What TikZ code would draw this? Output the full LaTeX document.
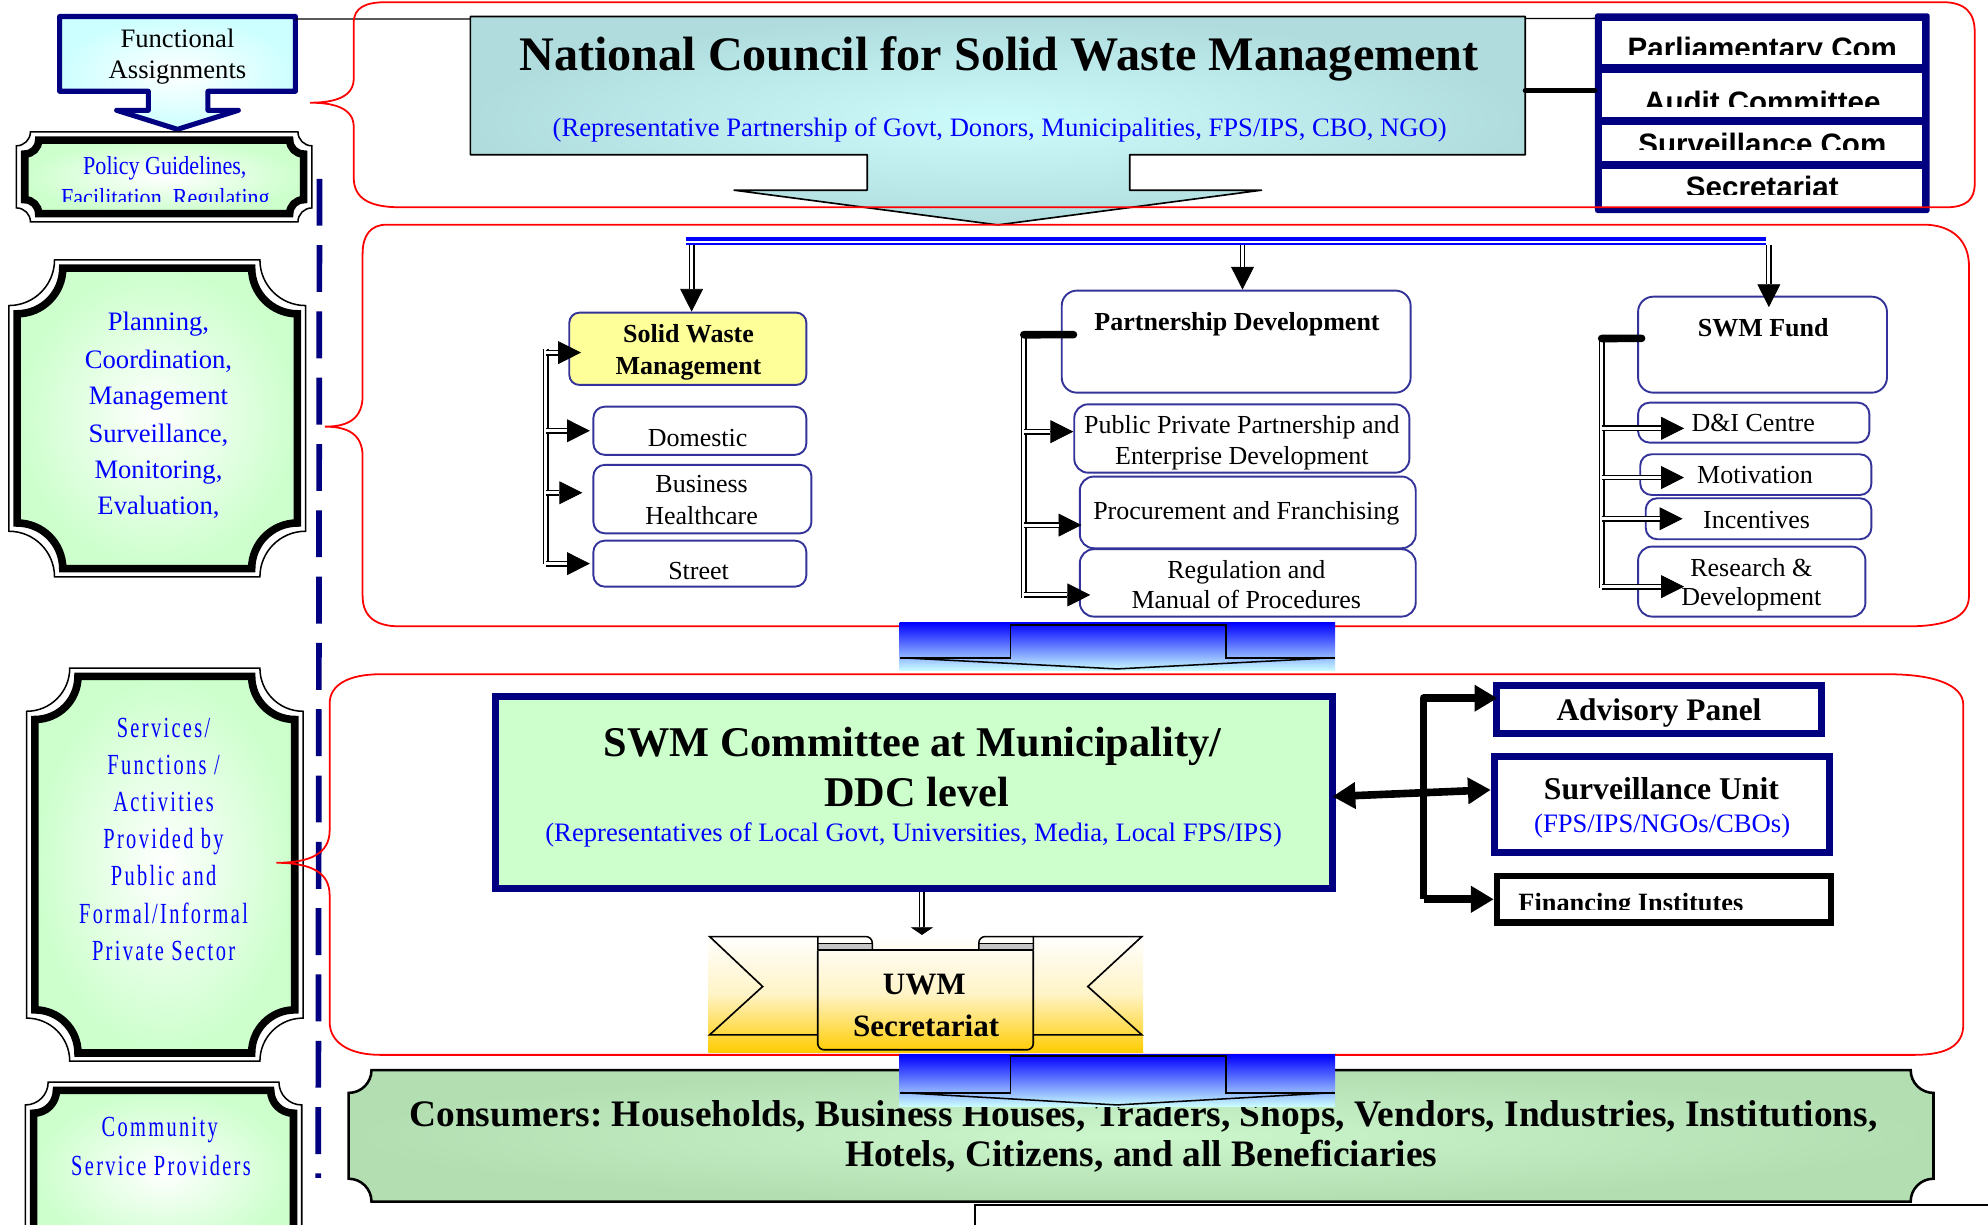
\documentclass[tikz,border=0pt]{standalone}
\usepackage{fontspec}
\setmainfont{Liberation Serif}
\newfontfamily\panelfont{Liberation Sans}
\newfontfamily\narrowfont[FakeStretch=0.85]{Liberation Serif}
\newfontfamily\trackfont[FakeStretch=0.7,LetterSpace=8]{Liberation Serif}
\usetikzlibrary{arrows.meta,calc}
\frenchspacing

\definecolor{navy}{RGB}{0,0,128}
\definecolor{boxblue}{RGB}{51,51,153}
\definecolor{pale}{RGB}{255,255,153}
\definecolor{mint}{RGB}{204,255,204}
\definecolor{sage}{RGB}{178,222,178}
\definecolor{sagelight}{RGB}{204,246,204}
\definecolor{aqua}{RGB}{204,255,255}
\definecolor{ncedge}{RGB}{176,220,222}
\definecolor{nccore}{RGB}{205,252,252}
\definecolor{gold}{RGB}{255,204,0}
\definecolor{ink}{RGB}{0,0,255}
\definecolor{brace}{RGB}{255,0,0}

\newcommand\fs[1]{\fontsize{#1}{#1}\selectfont}

% rectangle with concave (scooped) corners
\newcommand\scooped[5]{(#1+#5,#2) -- (#3-#5,#2) arc[start angle=180,end angle=90,radius=#5] -- (#3,#4-#5) arc[start angle=270,end angle=180,radius=#5] -- (#1+#5,#4) arc[start angle=0,end angle=-90,radius=#5] -- (#1,#2+#5) arc[start angle=90,end angle=0,radius=#5] -- cycle}

% framed plaque: thin outer rule, thick inner rule, pale green fill
\newcommand\plaque[5]{%
  \draw[line width=1.2pt, fill=white] \scooped{#1}{#2}{#3}{#4}{#5};
  \draw[line width=6pt, inner color=white, outer color=mint] \scooped{#1+6.5}{#2+6.5}{#3-6.5}{#4-6.5}{#5};
}

% double-ruled connector with a solid triangular head
\newcommand\dblarrow[4]{%
  \draw[line width=0.6pt,-{Triangle[length=#1pt,width=#2pt]}] #3 -- #4;
  \draw[dbl, shorten >=#1pt] #3 -- #4;}

\tikzset{
  lbl/.style={anchor=base, inner sep=0pt, outer sep=0pt},
  rbox/.style={draw=boxblue, line width=1.5pt, rounded corners=9pt, fill=white, inner sep=0pt},
  nbox/.style={draw=navy, line width=5.5pt, fill=white, inner sep=0pt},
  anchorbox/.style={inner sep=0pt, outer sep=0pt},
  rowbox/.style={fill=white, inner sep=0pt, outer sep=0pt, minimum width=252.3pt},
  dbl/.style={draw=black, double=white, double distance=2.4pt, line width=1.1pt},
  stub/.style={line width=6pt, line cap=round},
  heavy/.style={line width=6pt, line join=round, -{Triangle[length=18pt,width=20pt]}},
  redline/.style={draw=brace, line width=1.4pt},
  boxtext/.style={lbl, font=\fs{20.5}},
  boxtitle/.style={lbl, font=\bfseries\fs{20.5}},
  rowtext/.style={lbl, font=\panelfont\bfseries\fs{23.3}},
  plaquetext/.style={lbl, text=ink, font=\fs{21}},
  tracktext/.style={lbl, text=ink, font=\trackfont\fs{23}},
}

\begin{document}
\begin{tikzpicture}[x=1pt,y=-1pt]
\useasboundingbox (0,0) rectangle (1568,966);
\fill[white] (0,0) rectangle (1568,966);

% ---------------- left column of function plaques ----------------
\draw[navy, line width=4pt, line join=round, inner color=white, outer color=aqua]
  (47,13) -- (233,13) -- (233,72) -- (164,72) -- (164,87) -- (188,87) -- (140,102)
  -- (92,87) -- (117,87) -- (117,72) -- (47,72) -- cycle;
\node[anchorbox, minimum width=186pt, minimum height=59pt] (fa) at (140,42.5) {};
\node[lbl, font=\fs{21}] (faA) at (140,37.5) {Functional};
\node[lbl, font=\fs{21}] (faB) at (140,62) {Assignments};

\plaque{13}{104}{246}{175}{11}
\begin{scope}
  \clip (20,110) rectangle (240,159);
  \node[lbl, text=ink, font=\narrowfont\fs{20.5}] (polA) at (130,138) {Policy Guidelines,};
  \node[lbl, text=ink, font=\narrowfont\fs{20.5}] (polB) at (130.5,162.5) {Facilitation, Regulating};
\end{scope}

\plaque{7}{205}{241}{455}{36}
\node[plaquetext] (plA) at (125,260.3) {Planning,};
\node[plaquetext] (plB) at (125,290.5) {Coordination,};
\node[plaquetext] (plC) at (125,319.4) {Management};
\node[plaquetext] (plD) at (125,348.8) {Surveillance,};
\node[plaquetext] (plE) at (125,377.3) {Monitoring,};
\node[plaquetext] (plF) at (125,405.6) {Evaluation,};

\plaque{21}{527}{239}{837}{34}
\node[tracktext] (svA) at (129,581.5) {Services/};
\node[tracktext] (svB) at (129,610.8) {Functions /};
\node[tracktext] (svC) at (129,640.1) {Activities};
\node[tracktext] (svD) at (129,669.4) {Provided by};
\node[tracktext] (svE) at (129,698.7) {Public and};
\node[tracktext] (svF) at (129,728) {Formal/Informal};
\node[tracktext] (svG) at (129,757.3) {Private Sector};

\plaque{20}{853.5}{238}{995}{18}
\node[tracktext] (cmA) at (126,896) {Community};
\node[tracktext] (cmB) at (127,927) {Service Providers};

\coordinate (dashTop) at (252,141);
\coordinate (dashEnd) at (251,929);
\draw[navy, line width=4.5pt, dash pattern=on 37pt off 15.3pt] (dashTop) -- (dashEnd);

% ---------------- national level ----------------
\node[fill=navy, rounded corners=2pt, minimum width=264pt, minimum height=157.5pt, inner sep=0pt, outer sep=0pt] (panel) at (1390,89.25) {};
\node[rowbox, minimum height=34.1pt] (rowA) at (1389.4,33.65) {};
\node[rowbox, minimum height=34.2pt] (rowB) at (1389.4,74.9) {};
\node[rowbox, minimum height=28.1pt] (rowC) at (1389.4,112.65) {};
\node[rowbox, minimum height=29.5pt] (rowD) at (1389.4,148.25) {};
\begin{scope}\clip (1264,17) rectangle (1516,42.8);
  \node[rowtext] (rowAt) at (1390,46.4) {Parliamentary Com};\end{scope}
\begin{scope}\clip (1264,58) rectangle (1516,84.1);
  \node[rowtext] (rowBt) at (1390,89) {Audit Committee};\end{scope}
\begin{scope}\clip (1264,99) rectangle (1516,118.3);
  \node[rowtext] (rowCt) at (1390,121.8) {Surveillance Com};\end{scope}
\begin{scope}\clip (1264,133) rectangle (1516,153.5);
  \node[rowtext] (rowDt) at (1390,156) {Secretariat};\end{scope}

\draw[line width=1pt] ($(fa.north east)+(0,2)$) -- ($(panel.north west)+(0,4)$);

\draw[line width=1.3pt, line join=round, inner color=nccore, outer color=ncedge]
  (371,13) -- (1203,13) -- (1203,122) -- (891,122) -- (891,150) -- (995,150) -- (787,177.4)
  -- (579,150) -- (684,150) -- (684,122) -- (371,122) -- cycle;
\node[anchorbox, minimum width=832pt, minimum height=109pt] (nc) at (787,67.5) {};
\node[lbl, font=\bfseries\fs{38}] (ncT) at (788,55.5) {National Council for Solid Waste Management};
\node[lbl, text=ink, font=\fs{21}] (ncS) at (788.5,108) {(Representative Partnership of Govt, Donors, Municipalities, FPS/IPS, CBO, NGO)};

\coordinate (pj) at (nc.east -| panel.west);
\draw[line width=4pt, line cap=round] ($(nc.east)+(0,4)$) -- ($(pj)+(0,4)$);

% ---------------- programme level ----------------
\coordinate (busL) at (541,188.3);
\coordinate (busR) at (1393,188.3);
\coordinate (busB) at (0,193);
\draw[ink, line width=3pt] (busL) -- (busR);
\draw[ink, line width=1.8pt] ($(busL)+(0,4)$) -- ($(busR)+(0,4)$);

\node[rbox, fill=pale, rounded corners=8pt, minimum width=187pt, minimum height=57pt] (swm) at (542.5,275.1) {};
\node[rbox, minimum width=168pt, minimum height=38pt] (dom) at (552,339.75) {};
\node[rbox, minimum width=172pt, minimum height=54pt] (bus) at (554,393.65) {};
\node[rbox, minimum width=168pt, minimum height=36.3pt] (str) at (552,444.55) {};
\node[boxtitle] (swmA) at (543,270.2) {Solid Waste};
\node[boxtitle] (swmB) at (543,295) {Management};
\node[boxtext] (domT) at (550.2,352.3) {Domestic};
\node[boxtext] (busA) at (553.4,388.5) {Business};
\node[boxtext] (busC) at (553.4,413.3) {Healthcare};
\node[boxtext] (strT) at (551,457.4) {Street};

\node[rbox, rounded corners=12pt, minimum width=275.2pt, minimum height=80.5pt] (pd) at (975,269.45) {};
\node[rbox, rounded corners=11pt, minimum width=264.3pt, minimum height=53.9pt] (ppp) at (979.45,345.85) {};
\node[rbox, rounded corners=11pt, minimum width=264.9pt, minimum height=56.5pt] (proc) at (984.15,404.15) {};
\node[rbox, rounded corners=11pt, minimum width=264.9pt, minimum height=53.1pt] (reg) at (984.15,459.75) {};
\node[boxtitle] (pdT) at (975.7,260.3) {Partnership Development};
\node[boxtext] (pppA) at (979.5,341.8) {Public Private Partnership and};
\node[boxtext] (pppB) at (979.5,366.2) {Enterprise Development};
\node[boxtext] (procT) at (983,410) {Procurement and Franchising};
\node[boxtext] (regA) at (983,456) {Regulation and};
\node[boxtext] (regB) at (983,479.8) {Manual of Procedures};

\node[rbox, rounded corners=12pt, minimum width=196.3pt, minimum height=75.7pt] (fund) at (1390.15,271.85) {};
\node[rbox, minimum width=182.4pt, minimum height=31.5pt] (dic) at (1383.2,333.35) {};
\node[rbox, minimum width=182.3pt, minimum height=32.1pt] (mot) at (1384.85,374.35) {};
\node[rbox, minimum width=178pt, minimum height=32.3pt] (inc) at (1387,409.15) {};
\node[rbox, rounded corners=11pt, minimum width=179.3pt, minimum height=55.2pt] (rnd) at (1381.65,458.7) {};
\node[boxtitle] (fundT) at (1390.7,265.5) {SWM Fund};
\node[boxtext] (dicT) at (1382.8,340.4) {D\&I Centre};
\node[boxtext] (motT) at (1384.2,381.7) {Motivation};
\node[boxtext] (incT) at (1385.5,416.7) {Incentives};
\node[boxtext] (rndA) at (1381.3,454.8) {Research \&};
\node[boxtext] (rndB) at (1381.3,477.7) {Development};

% drops from the distribution bar
\coordinate (aS) at ($(swm.north)+(3,0)$);
\coordinate (aP) at ($(pd.north)+(5,0)$);
\coordinate (aF) at ($(fund.north)+(5,9)$);
\dblarrow{18}{18}{(aS |- busB)}{(aS)}
\dblarrow{18}{18}{(aP |- busB)}{(aP)}
\dblarrow{18}{18}{(aF |- busB)}{(aF)}

% solid waste branches
\coordinate (sT) at (430.5,275);
\coordinate (sB) at (430.5,445);
\draw[dbl] (sT) -- (sB);
\coordinate (kSwm) at ($(swm.west)+(10,3)$);
\coordinate (kDom) at ($(dom.west)+(-2,0)$);
\coordinate (kBus) at ($(bus.west)+(-8,-5)$);
\coordinate (kStr) at ($(str.west)+(-2,0)$);
\dblarrow{18}{18}{(kSwm -| sT)}{(kSwm)}
\dblarrow{18}{18}{(kDom -| sT)}{(kDom)}
\dblarrow{18}{18}{(kBus -| sT)}{(kBus)}
\dblarrow{18}{18}{(kStr -| sT)}{(kStr)}

% partnership branches
\coordinate (pT) at (807.5,264);
\coordinate (pB) at (807.5,471.7);
\draw[dbl] (pT) -- (pB);
\draw[stub] (pT) -- ($(pd.west)+(10,-5.5)$);
\coordinate (kPpp) at ($(ppp.west)+(0,-5.4)$);
\coordinate (kProc) at ($(proc.west)+(2,10)$);
\coordinate (kReg) at ($(reg.west)+(9,9.5)$);
\dblarrow{18}{18}{(kPpp -| pT)}{(kPpp)}
\dblarrow{18}{18}{(kProc -| pT)}{(kProc)}
\dblarrow{18}{18}{(kReg -| pT)}{(kReg)}

% fund branches
\coordinate (fT) at (1263.3,267);
\coordinate (fB) at (1263.3,464);
\draw[dbl] (fT) -- (fB);
\draw[stub] (fT) -- ($(fund.west)+(3.5,-5)$);
\coordinate (kDic) at ($(dic.west)+(37,4.5)$);
\coordinate (kMot) at ($(mot.west)+(35.3,2.3)$);
\coordinate (kInc) at ($(inc.west)+(29.8,0)$);
\coordinate (kRnd) at ($(rnd.west)+(37,4)$);
\dblarrow{18}{18}{(kDic -| fT)}{(kDic)}
\dblarrow{18}{18}{(kMot -| fT)}{(kMot)}
\dblarrow{18}{18}{(kInc -| fT)}{(kInc)}
\dblarrow{18}{18}{(kRnd -| fT)}{(kRnd)}

% ---------------- municipal level ----------------
\node[nbox, fill=mint, minimum width=660.8pt, minimum height=151.4pt] (com) at (720.85,625.25) {};
\node[lbl, font=\bfseries\fs{33.4}] (comA) at (719.7,596.8) {SWM Committee at Municipality/};
\node[lbl, font=\bfseries\fs{33.4}] (comB) at (722.9,636.2) {DDC level};
\node[lbl, text=ink, font=\fs{21}] (comC) at (720.6,663.8) {(Representatives of Local Govt, Universities, Media, Local FPS/IPS)};

\node[nbox, minimum width=256.4pt, minimum height=37.9pt] (adv) at (1308.45,559.3) {};
\node[lbl, font=\bfseries\fs{24.75}] (advT) at (1308.5,568.4) {Advisory Panel};
\node[nbox, minimum width=264.4pt, minimum height=75.5pt] (sun) at (1310.75,634.6) {};
\node[lbl, font=\bfseries\fs{25}] (sunA) at (1310.4,630.4) {Surveillance Unit};
\node[lbl, text=ink, font=\fs{21}] (sunB) at (1311,656.7) {(FPS/IPS/NGOs/CBOs)};
\node[draw=black, fill=white, line width=5pt, inner sep=0pt, minimum width=263.5pt, minimum height=36.8pt] (fin) at (1312.45,709.1) {};
\begin{scope}\clip (1184,700) rectangle (1443,717.6);
  \node[lbl, anchor=base west, font=\bfseries\fs{20.8}] (finT) at (1197.6,719.3) {Financing Institutes};\end{scope}

\coordinate (cx) at (1122.8,0);
\coordinate (tAdv) at ($(adv.west)+(3.5,-8.6)$);
\coordinate (tFin) at ($(fin.west)+(0,0.2)$);
\draw[heavy] (tFin -| cx) -- (tAdv -| cx) -- (tAdv);
\draw[heavy] (tFin -| cx) -- (tFin);
\draw[line width=6pt, {Triangle[length=18pt,width=20pt]}-{Triangle[length=18pt,width=20pt]}]
  ($(com.east)+(-3,3)$) -- ($(sun.west)+(0,-11.6)$);

% secretariat banner
\shade[top color=white, bottom color=gold, middle color=gold!22] (558.7,737.4) rectangle (901.7,830.2);
\draw[line width=1.3pt] (645,738.7) -- (559.7,738.7) -- (601.5,778.1) -- (559.7,816.2) -- (645,816.2);
\draw[line width=1.3pt] (815,738.7) -- (900.6,738.7) -- (858,778.1) -- (900.6,816.2) -- (815,816.2);
\fill[gray!45] (645,744) rectangle (688,749.5);
\fill[gray!45] (772,744) rectangle (815,749.5);
\draw[line width=1.2pt] (645,749.5) -- (645,738.7) -- (683,738.7) arc[start angle=-90,end angle=0,radius=5] -- (688,749.5);
\draw[line width=1.2pt] (815,749.5) -- (815,738.7) -- (777,738.7) arc[start angle=-90,end angle=-180,radius=5] -- (772,749.5);
\draw[line width=0.8pt] (645,744) -- (688,744);
\draw[line width=0.8pt] (772,744) -- (815,744);
\draw[line width=1.3pt, rounded corners=5pt] (645,749.5) -- (645,828) -- (815,828) -- (815,749.5);
\draw[line width=1.3pt] (645,749.5) -- (815,749.5);
\node[anchorbox, minimum width=343pt, minimum height=92.8pt] (uwm) at (730.2,783.8) {};
\node[lbl, font=\bfseries\fs{24.5}] (uwmA) at (729,784.7) {UWM};
\node[lbl, font=\bfseries\fs{24.5}] (uwmB) at (730.5,817.6) {Secretariat};

\coordinate (cS) at ($(com.south)+(6.3,0)$);
\coordinate (uT) at (uwm.north -| cS);
\dblarrow{6}{17.6}{(cS)}{(uT)}

% ---------------- beneficiaries ----------------
\draw[line width=2pt, inner color=sagelight, outer color=sage] \scooped{275}{844}{1525}{947.7}{18};
\node[anchorbox, minimum width=1250pt, minimum height=103.7pt] (cons) at (900,895.85) {};
\node[lbl, font=\bfseries\fs{29.5}] (consA) at (902,888.5) {Consumers: Households, Business Houses, Traders, Shops, Vendors, Industries, Institutions,};
\node[lbl, font=\bfseries\fs{29.5}] (consB) at (900,920) {Hotels, Citizens, and all Beneficiaries};

% ---------------- level brackets ----------------
\draw[redline] (244.6,81) .. controls (265,81) and (279,76) .. (279,62) -- (279,18)
  .. controls (279,6) and (288,1.7) .. (305,1.7) -- (1532,1.7)
  .. controls (1550,1.7) and (1557.5,10) .. (1557.5,25) -- (1557.5,145)
  .. controls (1557.5,158) and (1550,163.5) .. (1535,163.5) -- (316,163.5)
  .. controls (292,163.5) and (279,157) .. (279,140) -- (279,100)
  .. controls (279,86) and (265,81) .. (244.6,81);
\draw[redline] (256.3,336.5) .. controls (275,336.5) and (286,330) .. (286,312) -- (286,200)
  .. controls (286,186) and (292,177.2) .. (305,177.2) -- (1517,177.2)
  .. controls (1540,177.2) and (1553,190) .. (1553,210) -- (1553,470)
  .. controls (1553,487) and (1535,494) .. (1505,494) -- (315,494)
  .. controls (297,494) and (286,487) .. (286,470) -- (286,360)
  .. controls (286,343) and (275,336.5) .. (256.3,336.5);
\draw[redline] (218,680.5) .. controls (245,680.5) and (260,673) .. (260,655) -- (260,555)
  .. controls (260,540) and (275,531.8) .. (300,531.8) -- (1489,531.8)
  .. controls (1525,531.8) and (1548.5,540) .. (1548.5,556) -- (1548.5,808)
  .. controls (1548.5,825) and (1535,832) .. (1510,832) -- (300,832)
  .. controls (275,832) and (260,822) .. (260,806) -- (260,706)
  .. controls (260,688) and (245,680.5) .. (218,680.5);

% ---------------- flow arrows between levels ----------------
\shade[top color=ink, bottom color=aqua] (709.6,491) rectangle (1053,529);
\draw[line width=1.5pt] (710,518.8) -- (797,518.8) -- (797,493) -- (967,493) -- (967,518.8) -- (1053,518.8);
\draw[line width=1.2pt] (711,518.8) -- (881,527.6) -- (1052,518.8);

\shade[top color=ink, bottom color=aqua] (709.6,832) rectangle (1053,872.8);
\draw[line width=1.5pt] (710,861.8) -- (797,861.8) -- (797,833) -- (967,833) -- (967,861.8) -- (1053,861.8);
\draw[line width=1.2pt] (711,861.8) -- (881,871.5) -- (1052,861.8);

% page rule at the foot
\coordinate (footA) at (769,970);
\coordinate (footB) at (769,950.5);
\coordinate (footC) at (1570,950.5);
\draw[line width=1pt] (footA) -- (footB) -- (footC);
\end{tikzpicture}
\end{document}
